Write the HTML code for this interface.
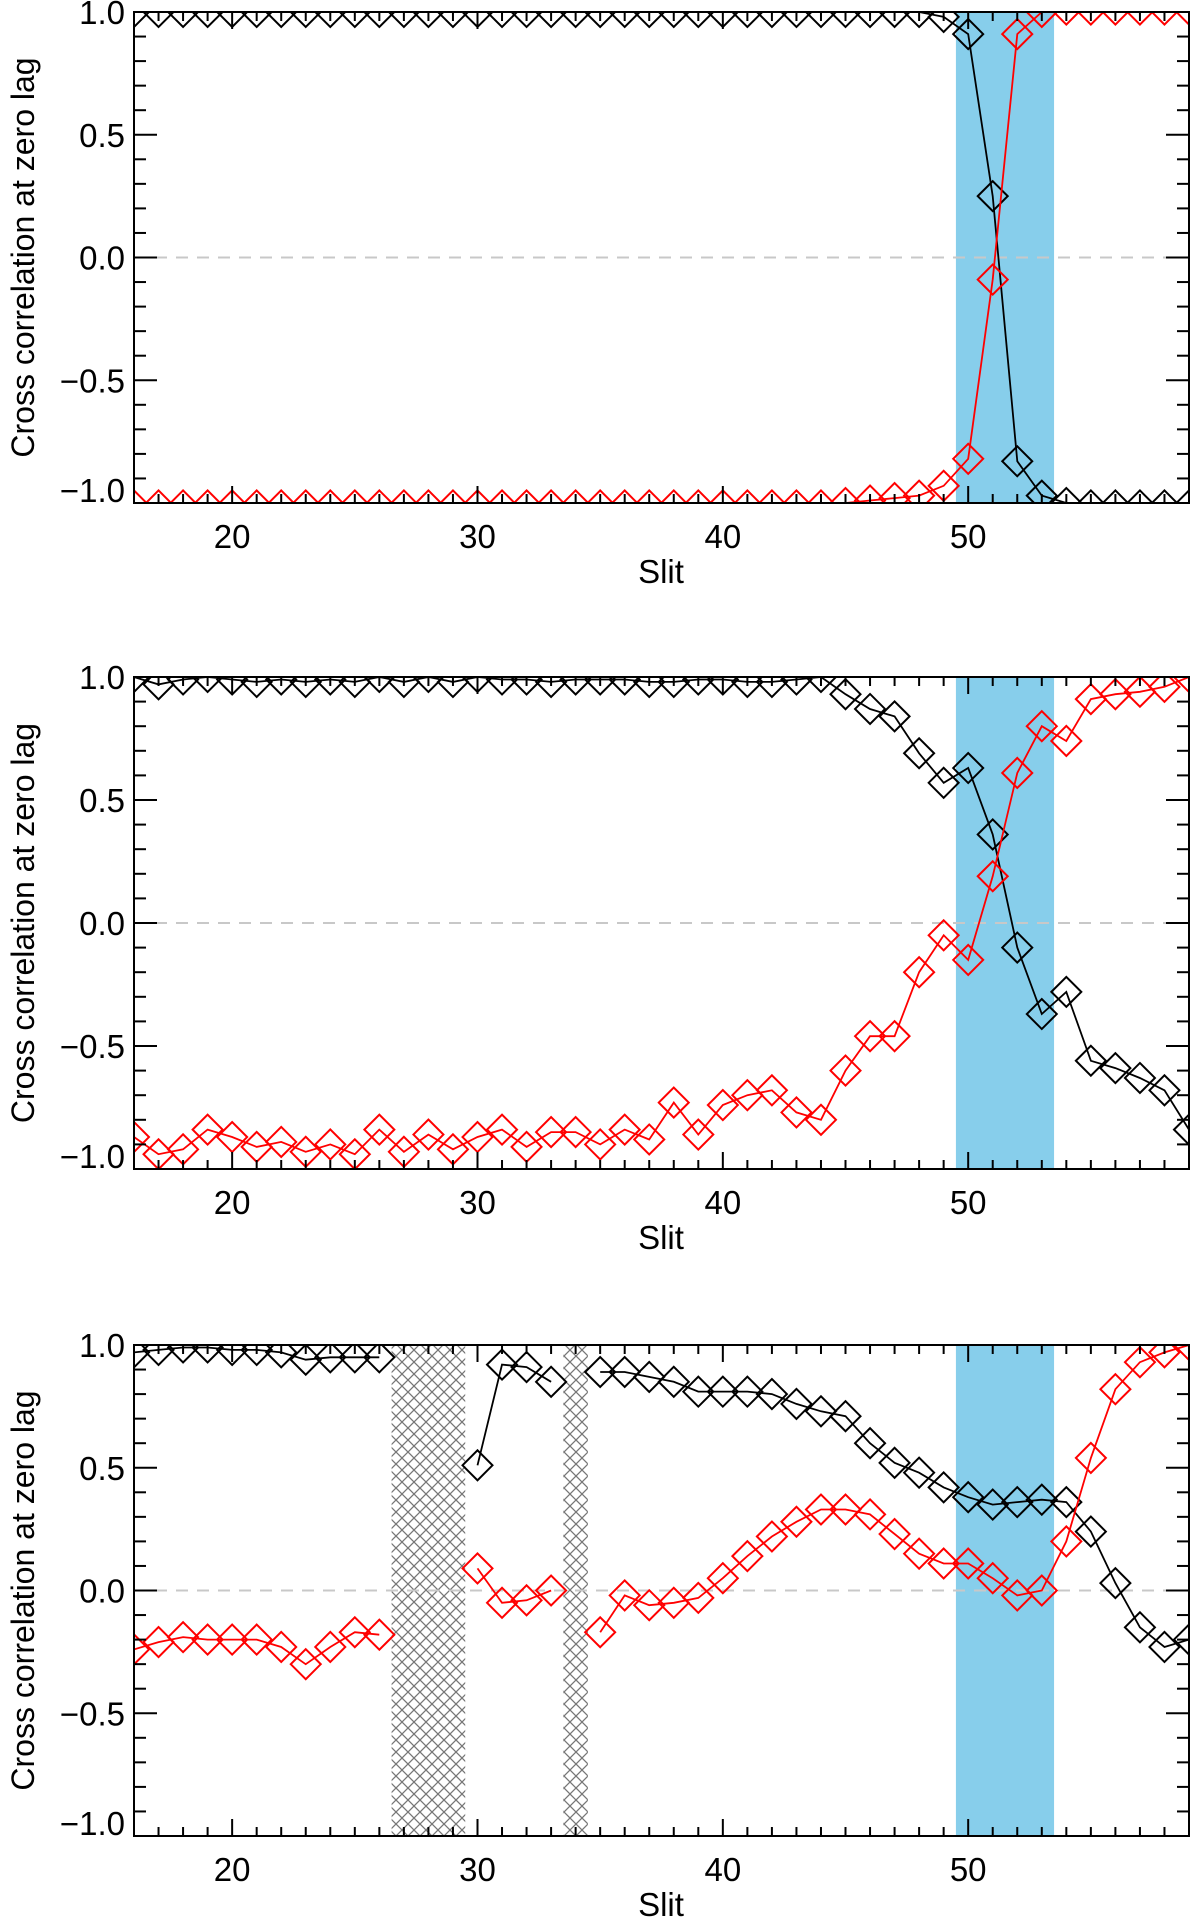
<!DOCTYPE html>
<html><head><meta charset="utf-8"><style>
html,body{margin:0;padding:0;background:#fff;}
svg{display:block;font-family:"Liberation Sans",Arial,sans-serif;}
</style></head><body>
<svg id="fig" width="1200" height="1921" viewBox="0 0 1200 1921" xmlns="http://www.w3.org/2000/svg">
<defs>
<pattern id="hatch" patternUnits="userSpaceOnUse" width="12" height="12">
<path d="M0,0 L12,12 M12,0 L0,12" stroke="#777" stroke-width="1.3" fill="none"/>
</pattern>
</defs>
</svg>
<script>
const slits = [16,17,18,19,20,21,22,23,24,25,26,27,28,29,30,31,32,33,34,35,36,37,38,39,40,41,42,43,44,45,46,47,48,49,50,51,52,53,54,55,56,57,58,59];
const xTicks = [20,30,40,50];
const yTicks = [-1.0,-0.5,0.0,0.5,1.0];
const yTickLabels = ["\u22121.0","\u22120.5","0.0","0.5","1.0"];
const bandRange = [49.5,53.5];
const hatchRanges = [[26.5,29.5],[33.5,34.5]];

const p1Black = [1,1,1,1,1,1,1,1,1,1,1,1,1,1,1,1,1,1,1,1,1,1,1,1,1,1,1,1,1,1,1,1,1,0.98,0.91,0.25,-0.83,-0.97,-1.0,-1.01,-1.01,-1.01,-1.01,-1.01];
const p1Red = [-1.01,-1.01,-1.01,-1.01,-1.01,-1.01,-1.01,-1.01,-1.01,-1.01,-1.01,-1.01,-1.01,-1.01,-1.01,-1.01,-1.01,-1.01,-1.01,-1.01,-1.01,-1.01,-1.01,-1.01,-1.01,-1.01,-1.01,-1.01,-1.01,-1.0,-0.99,-0.98,-0.97,-0.93,-0.82,-0.09,0.91,1.0,1.01,1.01,1.01,1.01,1.01,1.01];

const p2Black = [1.0,0.97,0.99,1.0,0.99,0.98,0.99,0.98,0.99,0.98,1.0,0.98,1.0,0.98,1.0,0.99,0.99,0.98,0.99,0.99,0.99,0.98,0.98,0.99,0.99,0.98,0.98,0.99,1.0,0.93,0.87,0.84,0.69,0.57,0.63,0.36,-0.10,-0.37,-0.28,-0.56,-0.59,-0.63,-0.68,-0.84];
const p2Red = [-0.87,-0.94,-0.92,-0.84,-0.87,-0.91,-0.89,-0.93,-0.90,-0.94,-0.84,-0.93,-0.86,-0.92,-0.87,-0.84,-0.91,-0.85,-0.85,-0.90,-0.84,-0.88,-0.73,-0.86,-0.74,-0.70,-0.68,-0.77,-0.80,-0.60,-0.46,-0.46,-0.20,-0.05,-0.15,0.19,0.61,0.80,0.74,0.91,0.93,0.94,0.96,1.0];

const p3Black = [0.97,0.98,0.99,0.99,0.98,0.98,0.97,0.94,0.95,0.95,0.95,null,null,null,0.51,0.92,0.91,0.85,null,0.89,0.89,0.87,0.85,0.81,0.81,0.81,0.80,0.76,0.73,0.71,0.60,0.52,0.48,0.42,0.38,0.35,0.36,0.37,0.36,0.24,0.03,-0.15,-0.23,-0.20];
const p3Red = [-0.24,-0.21,-0.19,-0.20,-0.20,-0.20,-0.23,-0.30,-0.23,-0.17,-0.18,null,null,null,0.09,-0.05,-0.04,0.0,null,-0.17,-0.02,-0.06,-0.05,-0.03,0.05,0.14,0.22,0.28,0.33,0.33,0.31,0.23,0.15,0.11,0.11,0.05,-0.02,0.0,0.20,0.54,0.82,0.93,0.97,1.0];

const panels = [
  {name:'panel-top', top:12, bottom:503, black:p1Black, red:p1Red, hatch:false},
  {name:'panel-middle', top:677, bottom:1169, black:p2Black, red:p2Red, hatch:false},
  {name:'panel-bottom', top:1345, bottom:1836, black:p3Black, red:p3Red, hatch:true}
];
const L = 134, R = 1189, XMIN = 16, XMAX = 59;
const svg = document.getElementById('fig');
const NS = 'http://www.w3.org/2000/svg';
function mk(tag, attrs, parent){
  const e = document.createElementNS(NS, tag);
  for (const k in attrs) e.setAttribute(k, attrs[k]);
  (parent||svg).appendChild(e);
  return e;
}
function xs(v){ return L + (v - XMIN) * (R - L) / (XMAX - XMIN); }

panels.forEach((p, pi) => {
  const ys = v => p.bottom - (v + 1) * (p.bottom - p.top) / 2;
  const g = mk('g', {});
  
  
  const clipId = 'clip' + pi;
  const cp = mk('clipPath', {id: clipId}, g);
  mk('rect', {x: L, y: p.top, width: R - L, height: p.bottom - p.top}, cp);

  const band = mk('rect', {x: xs(bandRange[0]), y: p.top, width: xs(bandRange[1]) - xs(bandRange[0]), height: p.bottom - p.top, fill: '#87ceeb'}, g);
  
  

  if (p.hatch) {
    hatchRanges.forEach(h => {
      const hr = mk('rect', {x: xs(h[0]), y: p.top, width: xs(h[1]) - xs(h[0]), height: p.bottom - p.top, fill: 'url(#hatch)'}, g);
      
      
    });
  }

  const zl = mk('line', {x1: L, x2: R, y1: ys(0), y2: ys(0), stroke: '#c8c8c8', 'stroke-width': 2, 'stroke-dasharray': '12,9'}, g);
  
  

  [['black', p.black, '#000'], ['red', p.red, '#ff0000']].forEach(([nm, vals, col]) => {
    const sg = mk('g', {'clip-path': 'url(#' + clipId + ')'}, g);
    
    
    let d = '', pen = false;
    vals.forEach((v, i) => {
      if (v === null) { pen = false; return; }
      d += (pen ? 'L' : 'M') + xs(slits[i]).toFixed(1) + ',' + ys(v).toFixed(1);
      pen = true;
    });
    const ln = mk('path', {d: d, fill: 'none', stroke: col, 'stroke-width': 1.8}, sg);
    
    
    vals.forEach((v, i) => {
      if (v === null) return;
      const cx = xs(slits[i]), cy = ys(v), s = 15;
      const m = mk('path', {d: `M${cx-s},${cy}L${cx},${cy-s}L${cx+s},${cy}L${cx},${cy+s}Z`, fill: 'none', stroke: col, 'stroke-width': 2}, sg);
      
      
    });
  });

  const tg = mk('g', {stroke: '#000', 'stroke-width': 2}, g);
  
  
  for (let k = -10; k <= 10; k++) {
    const v = k / 10, y = ys(v), len = (k % 5 === 0) ? 23 : 12;
    mk('line', {x1: L, x2: L + len, y1: y, y2: y}, tg);
    mk('line', {x1: R, x2: R - len, y1: y, y2: y}, tg);
  }
  for (let x = XMIN; x <= XMAX; x++) {
    const len = (x % 10 === 0) ? 17 : 9, px = xs(x);
    mk('line', {x1: px, x2: px, y1: p.bottom, y2: p.bottom - len}, tg);
    mk('line', {x1: px, x2: px, y1: p.top, y2: p.top + len}, tg);
  }
  const fr = mk('rect', {x: L, y: p.top, width: R - L, height: p.bottom - p.top, fill: 'none', stroke: '#000', 'stroke-width': 2}, g);
  
  

  yTicks.forEach((v, i) => {
    const t = mk('text', {x: 125, y: Math.min(ys(v) + 12, p.bottom - 1), 'font-size': 33, 'text-anchor': 'end', fill: '#000'}, g);
    t.textContent = yTickLabels[i];
    
    
  });
  xTicks.forEach(v => {
    const t = mk('text', {x: xs(v), y: p.bottom + 45, 'font-size': 33, 'text-anchor': 'middle', fill: '#000'}, g);
    t.textContent = String(v);
    
    
  });
  const xl = mk('text', {x: 661, y: p.bottom + 80, 'font-size': 33, 'text-anchor': 'middle', fill: '#000'}, g);
  xl.textContent = 'Slit';
  
  
  const cy = (p.top + p.bottom) / 2;
  const yl = mk('text', {x: 34, y: cy, 'font-size': 32, 'text-anchor': 'middle', fill: '#000', transform: `rotate(-90 34 ${cy})`}, g);
  yl.textContent = 'Cross correlation at zero lag';
  
  
});
</script>
</body></html>
